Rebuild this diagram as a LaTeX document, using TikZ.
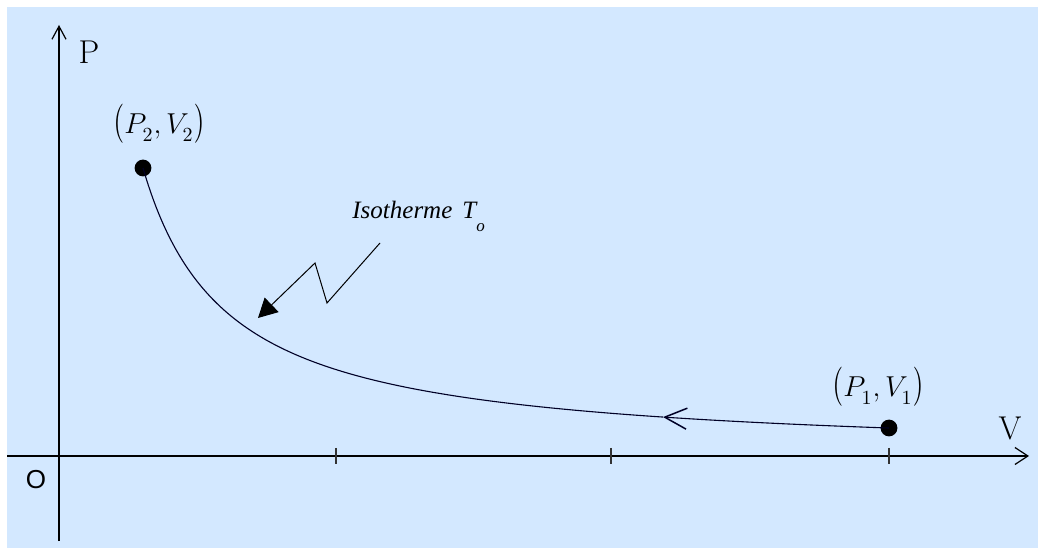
\documentclass[tikz,border=0pt]{standalone}
\usepackage{graphicx}
\usepackage{fontspec}
\newfontfamily\timesfont{Liberation Serif}
\newfontfamily\arialfont{Liberation Sans}
\usetikzlibrary{arrows.meta}
\definecolor{bgblue}{RGB}{211,232,255}
\newcommand\tallL{\mathopen{\scalebox{1}[1.36]{$($}}}
\newcommand\tallR{\mathclose{\scalebox{1}[1.36]{$)$}}}
\newcommand\lsub[1]{_{\raisebox{-1.6pt}{$\scriptstyle #1$}}}
\begin{document}
\begin{tikzpicture}[x=0.5pt,y=-0.5pt,
  axis/.style={line width=0.6pt, draw=black},
  curve/.style={line width=0.55pt, draw=black!85!blue},
  dot/.style={circle, fill=black, inner sep=0pt, minimum size=8.4pt},
  axlabel/.style={font=\fontsize{16.5}{19}\selectfont, inner sep=0pt},
  ptlabel/.style={font=\fontsize{14}{16}\selectfont, inner sep=0pt},
  tick/.style={line width=0.6pt, draw=black!80}]
\useasboundingbox (0,0) rectangle (1038,549);
\fill[bgblue] (7,7) rectangle (1038,548);
% axes
\coordinate (ybot) at (59,541);
\coordinate (ytop) at (59,25);
\coordinate (xleft) at (7,456);
\coordinate (xright) at (1029,456);
\draw[axis,-{Straight Barb[length=6.5pt,width=7pt]}] (ybot) -- (ytop);
\draw[axis,-{Straight Barb[length=6.5pt,width=8.5pt]}] (xleft) -- (xright);
% ticks
\foreach \t in {336,611,889} \draw[tick] (\t,448) -- (\t,464);
% axis labels
\node[axlabel] (P) at (89,52) {P};
\node[axlabel] (V) at (1010,428) {V};
\node[font=\arialfont\fontsize{13}{15}\selectfont, inner sep=0pt] (O) at (36,480) {O};
% points
\node[dot] (p1) at (889,428) {};
\node[dot] (p2) at (143,168) {};
\node[ptlabel] (l1) at (878,387) {$\tallL P\lsub{1},V\lsub{1}\tallR$};
\node[ptlabel] (l2) at (159,124) {$\tallL P\lsub{2},V\lsub{2}\tallR$};
% isotherm curve
\draw[curve,-{Straight Barb[length=11pt,width=10.5pt,line width=0.75pt]}] plot[domain=889:663, samples=60] (\x, {457.3 - 243/(\x-59)*100});
\draw[curve] plot[domain=663:143, samples=200] (\x, {457.3 - 243/(\x-59)*100});
% label
\node[font=\timesfont\itshape\fontsize{12.5}{14}\selectfont, anchor=base west, inner sep=0pt] (iso) at (352,219) {Isotherme\hspace{5pt}T\raisebox{-6.5pt}{\fontsize{8.5}{9}\selectfont o}};
\coordinate (z0) at (380,243);
\coordinate (z1) at (327,303);
\coordinate (z2) at (315,263);
\coordinate (z3) at (258,318);
\draw[line width=0.5pt, -{Triangle[length=9.5pt,width=10pt]}] (z0) -- (z1) -- (z2) -- (z3);
\end{tikzpicture}
\end{document}
